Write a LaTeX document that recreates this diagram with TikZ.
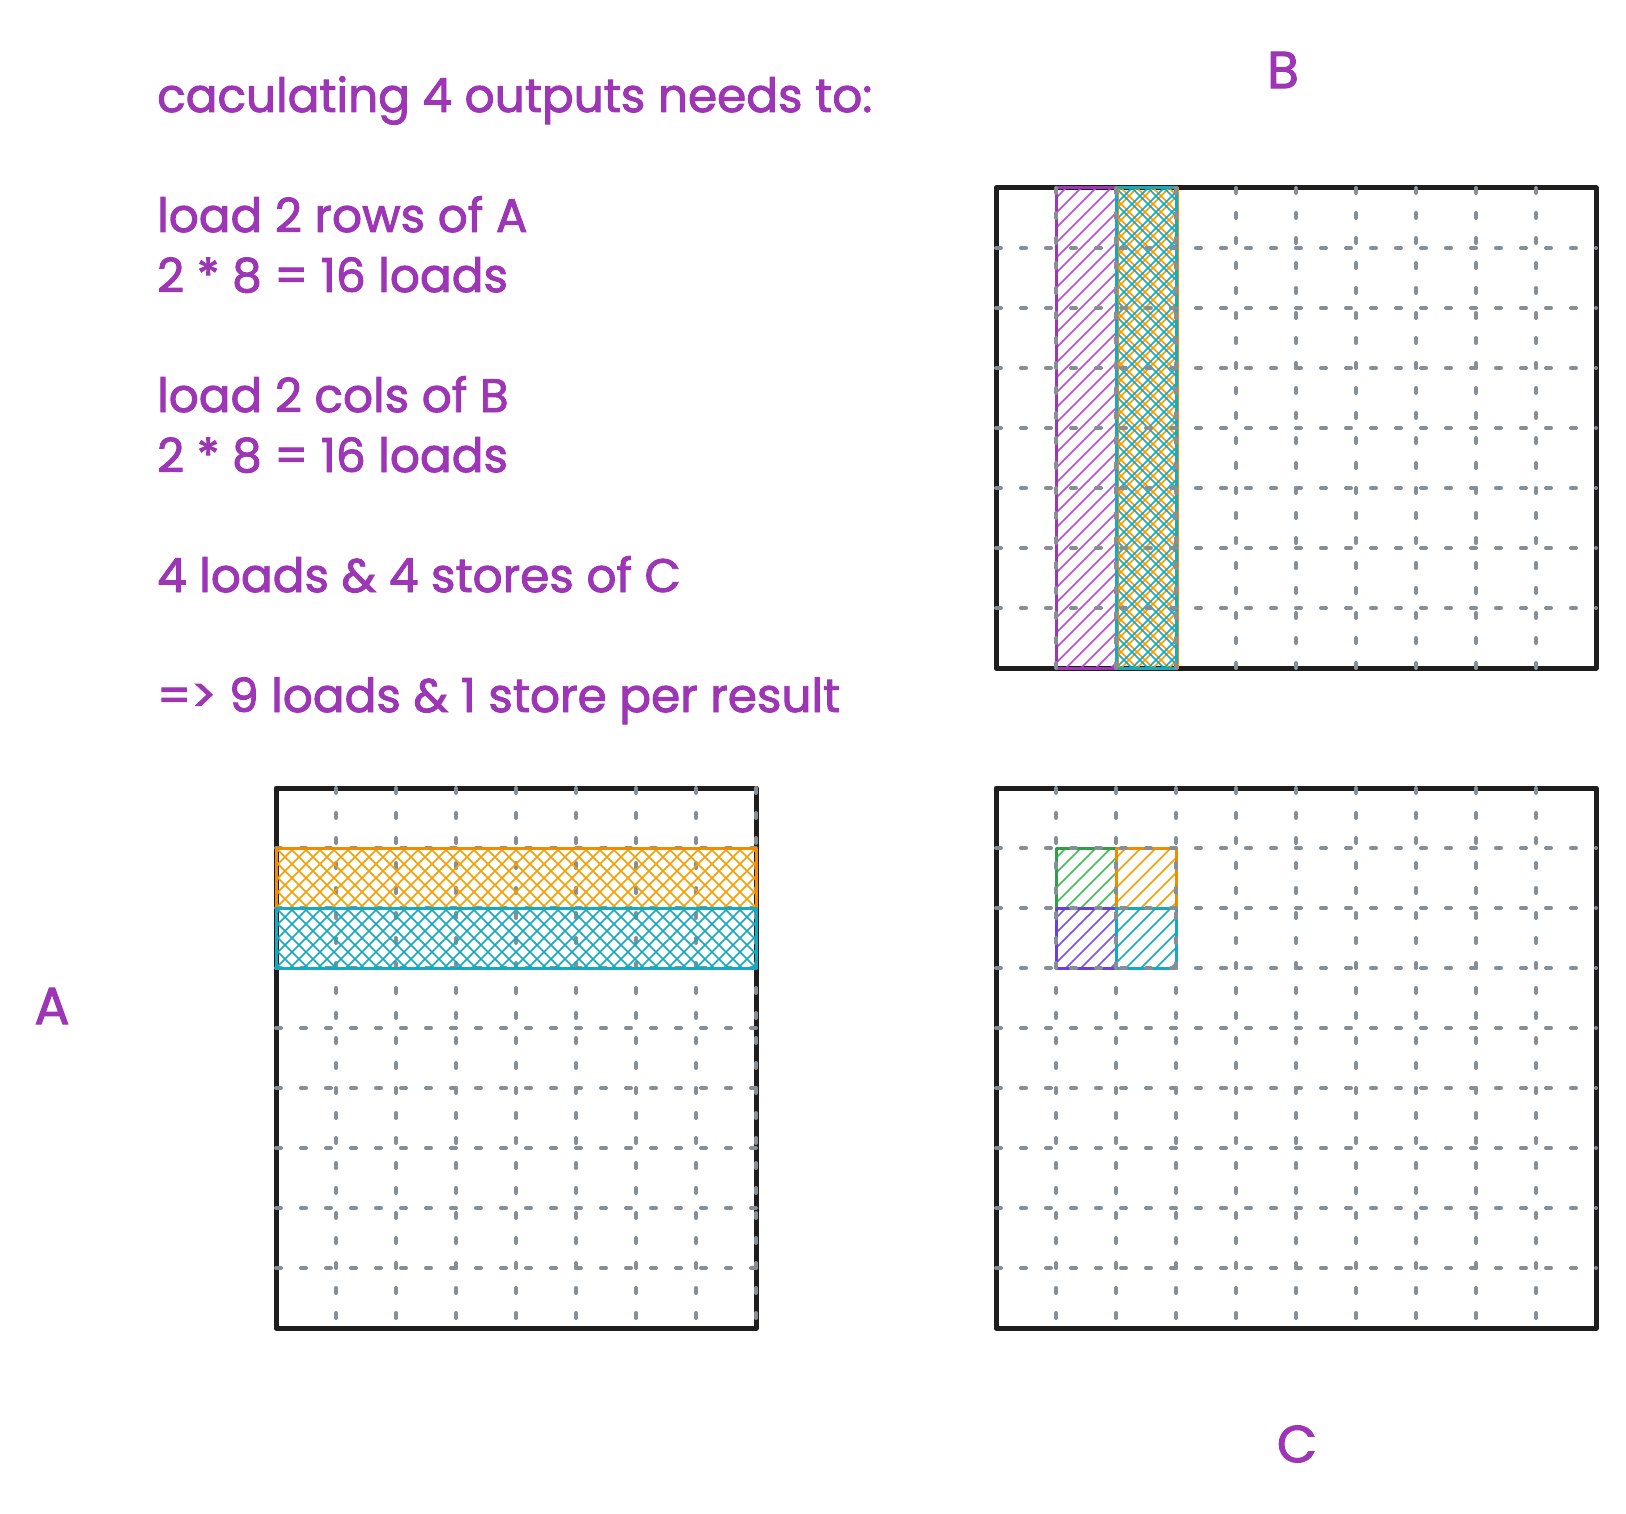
\documentclass[tikz,border=0pt]{standalone}
\usepackage{fontspec}
\setmainfont{Poppins}[FakeBold=2]
\definecolor{ink}{HTML}{1E1E1E}
\definecolor{gridgray}{HTML}{868E96}
\definecolor{txt}{HTML}{9C36B5}
\definecolor{purpB}{HTML}{9C36B5}
\definecolor{purpH}{HTML}{BE4BDB}
\definecolor{orgB}{HTML}{F08C00}
\definecolor{orgH}{HTML}{F59F00}
\definecolor{cyaB}{HTML}{15AABF}
\definecolor{cyaH}{HTML}{15AABF}
\definecolor{grnB}{HTML}{2F9E44}
\definecolor{grnH}{HTML}{40C057}
\definecolor{indB}{HTML}{6741D9}
\definecolor{indH}{HTML}{7950F2}
\tikzset{
  frame/.style={draw=ink, line width=5pt, line join=round},
  gridline/.style={draw=gridgray, line width=4pt, line cap=round, dash pattern=on 5pt off 20pt},
  hatchline/.style={line width=1.5pt},
  cellborder/.style={line width=3pt, line join=round},
  note/.style={text=txt, anchor=base west, inner sep=0pt, font=\fontsize{47}{60}\selectfont},
  title/.style={text=txt, inner sep=0pt, font=\fontsize{52}{60}\selectfont},
}
% #1,#2 top-left  #3,#4 bottom-right  #5 colour  #6 spacing  #7 offset
\newcommand\hatchne[7]{%
  \begin{scope}
    \clip (#1,#2) rectangle (#3,#4);
    \foreach \i in {0,...,95} \draw[hatchline, draw=#5] ({#1-560+#7+\i*#6},#4) -- ++(800,-800);
  \end{scope}}
\newcommand\hatchnw[7]{%
  \begin{scope}
    \clip (#1,#2) rectangle (#3,#4);
    \foreach \i in {0,...,95} \draw[hatchline, draw=#5] ({#1-560+#7+\i*#6},#2) -- ++(800,800);
  \end{scope}}
% grid: x0,y0,ncols,nrows, last vertical index
\newcommand\boxgrid[5]{%
  \foreach \i in {1,...,#5} \draw[gridline] ({#1+60*\i},#2) -- ({#1+60*\i},{#2+60*#4});
  \foreach \j in {1,...,\numexpr#4-1\relax} \draw[gridline] (#1,{#2+60*\j}) -- ({#1+60*#3},{#2+60*\j});
}
\begin{document}
\begin{tikzpicture}[x=1pt,y=-1pt]
\useasboundingbox (0,0) rectangle (1626,1514);

% ---------- text ----------
\node[note] (l1) at (157,112) {caculating 4 outputs needs to:};
\node[note] (l2) at (157,232) {load 2 rows of A};
\node[note] (l3) at (157,292) {2 * 8 = 16 loads};
\node[note] (l4) at (157,412) {load 2 cols of B};
\node[note] (l5) at (157,472) {2 * 8 = 16 loads};
\node[note] (l6) at (157,592) {4 loads \& 4 stores of C};
\node[note] (l7) at (157,712) {=> 9 loads \& 1 store per result};

\node[title] (labB) at (1283,70) {B};
\node[title] (labA) at (52,1006) {A};
\node[title] (labC) at (1297,1444) {C};

% ---------- matrix B ----------
\draw[frame] (996,188) rectangle (1596,668);
\hatchne{1056}{188}{1116}{668}{purpH}{15}{0}
\draw[cellborder, draw=purpB] (1056,188) rectangle (1116,668);
\hatchne{1116}{188}{1176}{668}{orgH}{16}{5}
\hatchnw{1116}{188}{1176}{668}{orgH}{16}{5}
\hatchne{1116}{188}{1176}{668}{cyaH}{16}{0}
\hatchnw{1116}{188}{1176}{668}{cyaH}{16}{0}
\draw[cellborder, draw=orgB] (1117,188) rectangle (1177,668);
\draw[cellborder, draw=cyaB] (1116,188) rectangle (1176,668);
\boxgrid{996}{188}{10}{8}{9}

% ---------- matrix A ----------
\draw[frame] (276,788) rectangle (756,1328);
\boxgrid{276}{788}{8}{9}{8}
\hatchne{276}{848}{756}{908}{orgH}{14}{0}
\hatchnw{276}{848}{756}{908}{orgH}{14}{0}
\draw[cellborder, draw=orgB] (276,848) rectangle (756,908);
\hatchne{276}{908}{756}{968}{cyaH}{14}{0}
\hatchnw{276}{908}{756}{968}{cyaH}{14}{0}
\draw[cellborder, draw=cyaB] (276,908) rectangle (756,968);

% ---------- matrix C ----------
\draw[frame] (996,788) rectangle (1596,1328);
\hatchne{1056}{848}{1116}{908}{grnH}{15}{0}
\draw[cellborder, draw=grnB] (1056,848) rectangle (1116,908);
\hatchne{1116}{848}{1176}{908}{orgH}{15}{0}
\draw[cellborder, draw=orgB] (1116,848) rectangle (1176,908);
\hatchne{1056}{908}{1116}{968}{indH}{15}{0}
\draw[cellborder, draw=indB] (1056,908) rectangle (1116,968);
\hatchne{1116}{908}{1176}{968}{cyaH}{15}{0}
\draw[cellborder, draw=cyaB] (1116,908) rectangle (1176,968);
\boxgrid{996}{788}{10}{9}{9}
\end{tikzpicture}
\end{document}
